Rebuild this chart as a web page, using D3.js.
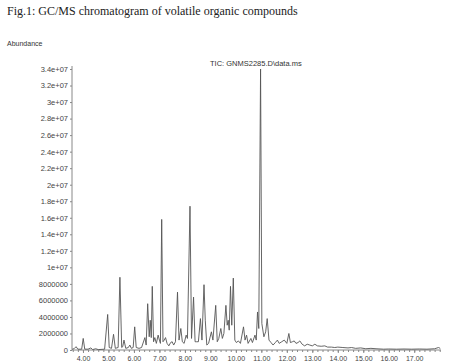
<!DOCTYPE html>
<html>
<head>
<meta charset="utf-8">
<script src="https://cdn.jsdelivr.net/npm/d3@7/dist/d3.min.js"></script>
<style>
body { margin: 0; background: #fff; }
text { font-family: "Liberation Sans", Arial, sans-serif; fill: #333; }
</style>
</head>
<body>
<div id="image"></div>
<script>
// retention time (min) and abundance (millions)
var times = [3.58, 3.65, 3.73, 3.8, 3.95, 4.01, 4.07, 4.2, 4.31, 4.38, 4.5, 4.6, 4.85, 4.97, 5.03, 5.12, 5.2, 5.27, 5.38, 5.45,
  5.52, 5.56, 5.61, 5.68, 5.78, 5.84, 5.9, 5.97, 6.03, 6.09, 6.2, 6.3, 6.43, 6.48, 6.54, 6.6, 6.64, 6.68, 6.72, 6.77,
  6.82, 6.88, 6.95, 7.0, 7.04, 7.09, 7.14, 7.19, 7.24, 7.3, 7.37, 7.44, 7.5, 7.56, 7.63, 7.71, 7.77, 7.84, 7.9, 7.97,
  8.05, 8.1, 8.2, 8.26, 8.34, 8.4, 8.46, 8.53, 8.61, 8.67, 8.75, 8.8, 8.86, 8.93, 9.04, 9.1, 9.21, 9.27, 9.33, 9.41,
  9.47, 9.53, 9.61, 9.66, 9.7, 9.74, 9.79, 9.84, 9.9, 9.96, 10.02, 10.1, 10.18, 10.3, 10.36, 10.42, 10.48, 10.59, 10.65, 10.75,
  10.8, 10.85, 10.9, 10.97, 11.02, 11.1, 11.17, 11.23, 11.3, 11.38, 11.46, 11.55, 11.63, 11.7, 11.8, 11.9, 12.0, 12.08, 12.14, 12.22,
  12.29, 12.36, 12.44, 12.51, 12.6, 12.7, 12.8, 12.9, 13.0, 13.1, 13.2, 13.35, 13.49, 13.6, 13.75, 13.88, 14.0, 14.2, 14.4, 14.54,
  14.7, 14.9, 15.1, 15.3, 15.5, 15.8, 16.0, 16.3, 16.6, 16.9, 17.2, 17.5, 17.8, 17.95, 18.02];
var abundance = [0.1, 0.15, 0.4, 0.1, 0.1, 1.4, 0.1, 0.1, 0.25, 0.05, 0.15, 0.05, 0.1, 4.3, 0.3, 0.2, 1.9, 0.2, 0.3, 8.8,
  0.3, 0.4, 1.2, 0.2, 0.3, 0.6, 0.2, 0.3, 2.8, 0.3, 0.2, 0.3, 1.5, 0.6, 5.6, 1.6, 3.6, 1.5, 7.7, 1.0,
  1.5, 0.8, 1.8, 1.2, 0.8, 15.8, 1.0, 1.2, 1.5, 0.8, 0.5, 0.9, 1.0, 0.6, 1.0, 7.0, 1.2, 2.6, 1.0, 0.8,
  1.8, 1.4, 17.4, 1.4, 6.4, 1.0, 1.0, 1.0, 3.8, 1.2, 7.9, 3.6, 0.6, 0.8, 2.2, 1.2, 5.4, 1.0, 1.4, 2.6,
  1.4, 2.0, 5.4, 3.0, 3.6, 2.4, 7.7, 3.0, 8.7, 1.2, 0.9, 1.1, 0.8, 2.8, 1.2, 1.8, 0.8, 1.4, 0.9, 1.8,
  1.2, 4.6, 2.6, 34.0, 3.2, 1.6, 2.2, 3.8, 1.2, 0.9, 0.6, 0.9, 1.2, 0.8, 1.0, 1.2, 0.8, 2.0, 0.9, 1.0,
  1.1, 0.8, 0.9, 1.1, 0.7, 0.5, 0.7, 0.6, 0.5, 0.7, 0.5, 0.45, 0.5, 0.35, 0.35, 0.3, 0.35, 0.3, 0.25, 0.3,
  0.2, 0.25, 0.15, 0.2, 0.15, 0.1, 0.12, 0.1, 0.12, 0.1, 0.12, 0.1, 0.15, 0.3, 0.2];

var yTicks = [0, 2, 4, 6, 8, 10, 12, 14, 16, 18, 20, 22, 24, 26, 28, 30, 32, 34];
var yTickLabels = ["0", "2000000", "4000000", "6000000", "8000000", "1e+07", "1.2e+07", "1.4e+07", "1.6e+07",
  "1.8e+07", "2e+07", "2.2e+07", "2.4e+07", "2.6e+07", "2.8e+07", "3e+07", "3.2e+07", "3.4e+07"];
var xTicks = [4, 5, 6, 7, 8, 9, 10, 11, 12, 13, 14, 15, 16, 17];
var xTickLabels = ["4.00", "5.00", "6.00", "7.00", "8.00", "9.00", "10.00", "11.00", "12.00", "13.00", "14.00", "15.00", "16.00", "17.00"];

var w = 450, h = 364;

var svg = d3.select("#image").append("svg")
  .attr("width", w)
  .attr("height", h);

var x = d3.scaleLinear().domain([3.57, 18.05]).range([72, 441]);
var y = d3.scaleLinear().domain([0, 34]).range([350, 69]);

svg.append("text")
  .attr("x", 7).attr("y", 15)
  .style("font-family", "'Liberation Serif', 'Times New Roman', serif")
  .style("font-size", "12px")
  .style("fill", "#222")
  .text("Fig.1: GC/MS chromatogram of volatile organic compounds");

svg.append("text")
  .attr("x", 7).attr("y", 46)
  .style("font-size", "7px")
  .text("Abundance");

// y axis
var yAxis = d3.axisLeft(y)
  .tickValues(yTicks)
  .tickSize(2)
  .tickPadding(2)
  .tickFormat((d, i) => yTickLabels[i]);
var gy = svg.append("g").attr("transform", "translate(72,0)").call(yAxis);
gy.select(".domain").attr("stroke", "#888").attr("d", "M0,66V350");
gy.selectAll("line").attr("stroke", "#888");
gy.selectAll("text").style("font-size", "7.5px").style("fill", "#444");

// x axis, minor ticks every 0.2 min
var gm = svg.append("g").attr("transform", "translate(0,350)")
  .call(d3.axisBottom(x).tickValues(d3.range(3.6, 18.01, 0.2)).tickSize(2).tickFormat(""));
gm.select(".domain").attr("stroke", "#888").attr("d", "M72,0H441");
gm.selectAll("line").attr("stroke", "#888");

var gx = svg.append("g").attr("transform", "translate(0,350)")
  .call(d3.axisBottom(x).tickValues(xTicks).tickSize(3).tickPadding(3)
    .tickFormat((d, i) => xTickLabels[i]));
gx.select(".domain").remove();
gx.selectAll("line").attr("stroke", "#888");
gx.selectAll("text").style("font-size", "7px").style("fill", "#444");

// the trace
var pts = times.map((t, i) => [t, abundance[i]]);
var line = d3.line().x(d => x(d[0])).y(d => y(d[1]));
svg.append("path")
  .datum(pts)
  .attr("d", line)
  .attr("fill", "none")
  .attr("stroke", "#555")
  .attr("stroke-width", 0.9);

svg.append("text")
  .attr("x", 210).attr("y", 66)
  .style("font-size", "7.5px")
  .text("TIC: GNMS2285.D\\data.ms");
</script>
</body>
</html>
